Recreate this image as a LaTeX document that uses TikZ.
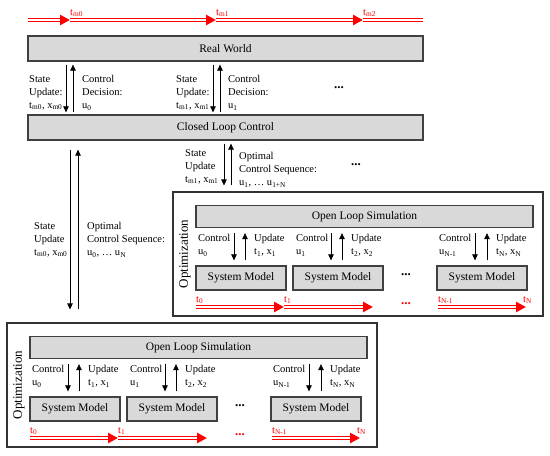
\documentclass[tikz,border=0pt]{standalone}
\usepackage{fontspec}
\setmainfont{Liberation Serif}
\usetikzlibrary{arrows.meta,positioning,calc}

\begin{document}
\begin{tikzpicture}[x=1pt, y=-1pt, >={Triangle[length=6pt,width=5.5pt]},
    box/.style={draw=black!75, line width=1.3pt, fill=black!15, inner sep=0pt, font=\fontsize{11.5}{13}\selectfont},
    frame/.style={draw=black!80, line width=1.1pt, inner sep=0pt},
    lbl/.style={anchor=north west, inner sep=0pt, align=left, font=\fontsize{10.5}{13}\selectfont},
    flow/.style={line width=0.7pt, ->},
    tbar/.style={red, line width=3.4pt, postaction={draw=white, line width=1.4pt}},
    tline/.style={red, line width=3.4pt, -{Triangle[length=10pt,width=10pt]},
      postaction={draw=white, line width=1.4pt, shorten >=10pt, -}},
    tlbl/.style={red, inner sep=0pt, anchor=south west, font=\fontsize{10.5}{12}\selectfont},
    dots/.style={font=\fontsize{13}{13}\selectfont\bfseries, inner sep=0pt}]
  \useasboundingbox (0,0) rectangle (550,456);
  % time line of the real world
  \coordinate (m) at (28,20);
  \coordinate (m0) at (70,20);
  \coordinate (m1) at (216,20);
  \coordinate (m2) at (363,20);
  \coordinate (mend) at (423,20);
  \draw[tline] (m) -- (m0);
  \draw[tline] (m0) -- (m1);
  \draw[tline] (m1) -- (m2);
  \draw[tbar] (m2) -- (mend);
  \node[tlbl] at ($(m0)+(0,-3)$) {t\textsubscript{m0}};
  \node[tlbl] at ($(m1)+(0,-3)$) {t\textsubscript{m1}};
  \node[tlbl] at ($(m2)+(0,-3)$) {t\textsubscript{m2}};
  % real world and controller
  \node[box, minimum width=395, minimum height=25] at (225.5,48.5) (rw) {Real World};
  \node[box, minimum width=395, minimum height=25] at (225.5,127.5) (clc) {Closed Loop Control};
  \draw[flow, shorten <=3pt, shorten >=2pt] (rw.south -| 66,0) -- (clc.north -| 66,0);
  \draw[flow, shorten <=2pt, shorten >=3pt] (clc.north -| 73,0) -- (rw.south -| 73,0);
  \draw[flow, shorten <=3pt, shorten >=2pt] (rw.south -| 213,0) -- (clc.north -| 213,0);
  \draw[flow, shorten <=2pt, shorten >=3pt] (clc.north -| 220,0) -- (rw.south -| 220,0);
  \node[lbl] at (29,75) (su0) {State\\Update:\\t\textsubscript{m0}, x\textsubscript{m0}};
  \node[lbl] at (82,75) (cd0) {Control\\Decision:\\u\textsubscript{0}};
  \node[lbl] at (176,75) (su1) {State\\Update:\\t\textsubscript{m1}, x\textsubscript{m1}};
  \node[lbl] at (228,75) (cd1) {Control\\Decision:\\u\textsubscript{1}};
  \node[dots] at (339,88) {...};
  % optimization boxes (lower one, then the one shifted up)
  \foreach \p/\sx/\sy in {lo/0/0, up/166/-131}{
    \begin{scope}[shift={(\sx,\sy)}]
      \node[frame, minimum width=370, minimum height=124] at (192,385) (\p-box) {};
      \node[rotate=90, inner sep=0pt, font=\fontsize{13}{14}\selectfont] at (19,385) {Optimization};
      \node[box, minimum width=337, minimum height=22] at (198.5,347.5) (\p-ols) {Open Loop Simulation};
      \node[box, minimum width=90, minimum height=24] at (75,409) (\p-sm1) {System Model};
      \node[box, minimum width=90, minimum height=24] at (172,409) (\p-sm2) {System Model};
      \node[box, minimum width=90, minimum height=24] at (316,409) (\p-sm3) {System Model};
      \draw[flow, shorten <=5pt, shorten >=5pt] (\p-ols.south -| 68,0) -- (\p-sm1.north -| 68,0);
      \draw[flow, shorten <=5pt, shorten >=5pt] (\p-sm1.north -| 79,0) -- (\p-ols.south -| 79,0);
      \draw[flow, shorten <=5pt, shorten >=5pt] (\p-ols.south -| 165,0) -- (\p-sm2.north -| 165,0);
      \draw[flow, shorten <=5pt, shorten >=5pt] (\p-sm2.north -| 176,0) -- (\p-ols.south -| 176,0);
      \draw[flow, shorten <=5pt, shorten >=5pt] (\p-ols.south -| 309,0) -- (\p-sm3.north -| 309,0);
      \draw[flow, shorten <=5pt, shorten >=5pt] (\p-sm3.north -| 321,0) -- (\p-ols.south -| 321,0);
      \node[lbl] at (32,365) {Control\\u\textsubscript{0}};
      \node[lbl] at (88,365) {Update\\t\textsubscript{1}, x\textsubscript{1}};
      \node[lbl] at (130,365) {Control\\u\textsubscript{1}};
      \node[lbl] at (185,365) {Update\\t\textsubscript{2}, x\textsubscript{2}};
      \node[lbl] at (273,365) {Control\\u\textsubscript{N-1}};
      \node[lbl] at (330,365) {Update\\t\textsubscript{N}, x\textsubscript{N}};
      \node[dots] at (240,406) {...};
      % simulated time line
      \coordinate (\p-t0) at (30,438);
      \coordinate (\p-t1) at (118,438);
      \coordinate (\p-t2) at (207,438);
      \coordinate (\p-tn1) at (272,438);
      \coordinate (\p-tn) at (360,438);
      \draw[tline] (\p-t0) -- (\p-t1);
      \draw[tline] (\p-t1) -- (\p-t2);
      \draw[tline] (\p-tn1) -- (\p-tn);
      \node[tlbl] at ($(\p-t0)+(0,-3)$) {t\textsubscript{0}};
      \node[tlbl] at ($(\p-t1)+(0,-3)$) {t\textsubscript{1}};
      \node[tlbl] at ($(\p-tn1)+(0,-3)$) {t\textsubscript{N-1}};
      \node[tlbl] at ($(\p-tn)+(-3,-3)$) {t\textsubscript{N}};
      \node[dots, red] at (240,435) {...};
    \end{scope}
  }
  % state and optimal control sequence
  \draw[flow, shorten <=9pt, shorten >=13pt] (clc.south -| 70,0) -- (lo-box.north -| 70,0);
  \draw[flow, shorten <=13pt, shorten >=9pt] (lo-box.north -| 78,0) -- (clc.south -| 78,0);
  \draw[flow, shorten <=3pt, shorten >=6pt] (clc.south -| 224,0) -- (up-box.north -| 224,0);
  \draw[flow, shorten <=6pt, shorten >=3pt] (up-box.north -| 231,0) -- (clc.south -| 231,0);
  \node[lbl] at (34,222) (su2) {State\\Update\\t\textsubscript{m0}, x\textsubscript{m0}};
  \node[lbl] at (87,222) (oc0) {Optimal\\Control Sequence:\\u\textsubscript{0}, \dots\ u\textsubscript{N}};
  \node[lbl] at (185,149) (su3) {State\\Update\\t\textsubscript{m1}, x\textsubscript{m1}};
  \node[lbl] at (239,152) (oc1) {Optimal\\Control Sequence:\\u\textsubscript{1}, \dots\ u\textsubscript{1+N}};
  \node[dots] at (356,165) {...};
\end{tikzpicture}
\end{document}
